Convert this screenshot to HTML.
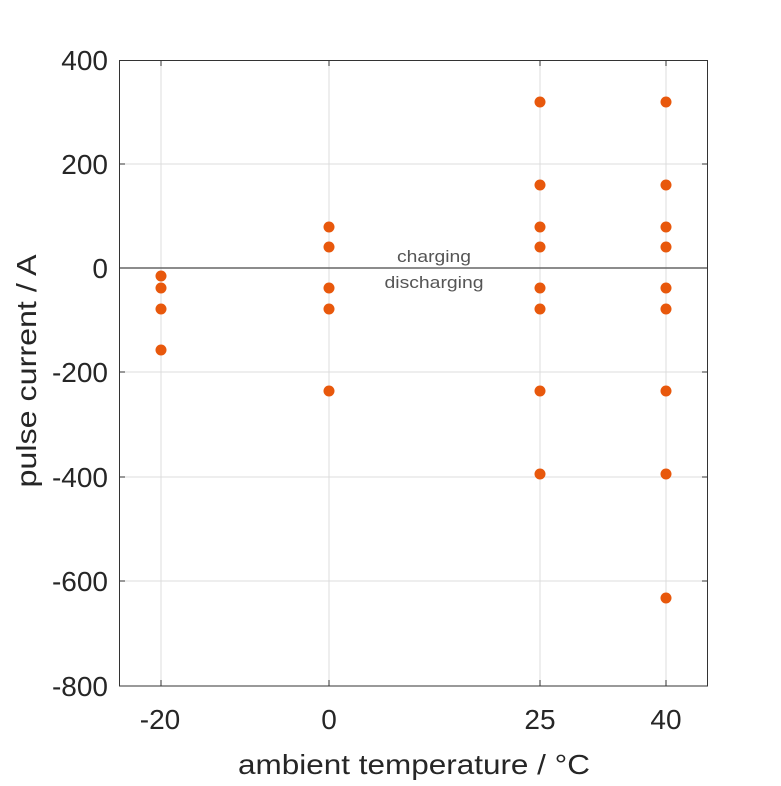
<!DOCTYPE html>
<html><head><style>body{margin:0;background:#fff}</style></head><body>
<svg width="781" height="781" xmlns="http://www.w3.org/2000/svg" font-family="Liberation Sans, sans-serif">
<rect width="781" height="781" fill="#fff"/>
<g stroke="#dcdcdc" stroke-width="1">
<line x1="119" y1="164" x2="708" y2="164"/><line x1="119" y1="372" x2="708" y2="372"/>
<line x1="119" y1="477" x2="708" y2="477"/><line x1="119" y1="581" x2="708" y2="581"/>
<line x1="161" y1="60" x2="161" y2="686"/><line x1="329" y1="60" x2="329" y2="686"/>
<line x1="540" y1="60" x2="540" y2="686"/><line x1="666" y1="60" x2="666" y2="686"/>
</g>
<g stroke="#333" stroke-width="1">
<line x1="119" y1="164" x2="125" y2="164"/><line x1="119" y1="268" x2="125" y2="268"/><line x1="119" y1="372" x2="125" y2="372"/><line x1="119" y1="477" x2="125" y2="477"/><line x1="119" y1="581" x2="125" y2="581"/>
<line x1="702" y1="164" x2="708" y2="164"/><line x1="702" y1="372" x2="708" y2="372"/><line x1="702" y1="477" x2="708" y2="477"/><line x1="702" y1="581" x2="708" y2="581"/>
<line x1="161" y1="686" x2="161" y2="680"/><line x1="329" y1="686" x2="329" y2="680"/><line x1="540" y1="686" x2="540" y2="680"/><line x1="666" y1="686" x2="666" y2="680"/>
<line x1="161" y1="60" x2="161" y2="66"/><line x1="329" y1="60" x2="329" y2="66"/><line x1="540" y1="60" x2="540" y2="66"/><line x1="666" y1="60" x2="666" y2="66"/>
</g>
<line x1="119" y1="268" x2="708" y2="268" stroke="#666" stroke-width="1.5"/>
<rect x="119.5" y="60.5" width="588" height="625.5" fill="none" stroke="#333" stroke-width="1"/>
<g fill="#555" font-size="17" text-anchor="middle">
<text x="434" y="262" textLength="74" lengthAdjust="spacingAndGlyphs">charging</text><text x="434" y="288" textLength="99" lengthAdjust="spacingAndGlyphs">discharging</text>
</g>
<g fill="#e8580c">
<circle cx="161" cy="276" r="5.5"/><circle cx="161" cy="288" r="5.5"/><circle cx="161" cy="309" r="5.5"/><circle cx="161" cy="350" r="5.5"/>
<circle cx="329" cy="227" r="5.5"/><circle cx="329" cy="247" r="5.5"/><circle cx="329" cy="288" r="5.5"/><circle cx="329" cy="309" r="5.5"/><circle cx="329" cy="391" r="5.5"/>
<circle cx="540" cy="102" r="5.5"/><circle cx="540" cy="185" r="5.5"/><circle cx="540" cy="227" r="5.5"/><circle cx="540" cy="247" r="5.5"/><circle cx="540" cy="288" r="5.5"/><circle cx="540" cy="309" r="5.5"/><circle cx="540" cy="391" r="5.5"/><circle cx="540" cy="474" r="5.5"/>
<circle cx="666" cy="102" r="5.5"/><circle cx="666" cy="185" r="5.5"/><circle cx="666" cy="227" r="5.5"/><circle cx="666" cy="247" r="5.5"/><circle cx="666" cy="288" r="5.5"/><circle cx="666" cy="309" r="5.5"/><circle cx="666" cy="391" r="5.5"/><circle cx="666" cy="474" r="5.5"/><circle cx="666" cy="598" r="5.5"/>
</g>
<g fill="#262626" font-size="28" text-anchor="end">
<text x="108" y="70">400</text><text x="108" y="174">200</text><text x="108" y="278">0</text><text x="108" y="382">-200</text><text x="108" y="487">-400</text><text x="108" y="591">-600</text><text x="108" y="696">-800</text>
</g>
<g fill="#262626" font-size="28" text-anchor="middle">
<text x="160" y="729">-20</text><text x="329" y="729">0</text><text x="540" y="729">25</text><text x="666" y="729">40</text>
<text x="414" y="774" textLength="352" lengthAdjust="spacingAndGlyphs">ambient temperature / °C</text>
<text transform="translate(36,371) rotate(-90)" textLength="233" lengthAdjust="spacingAndGlyphs">pulse current / A</text>
</g>
</svg>
</body></html>
